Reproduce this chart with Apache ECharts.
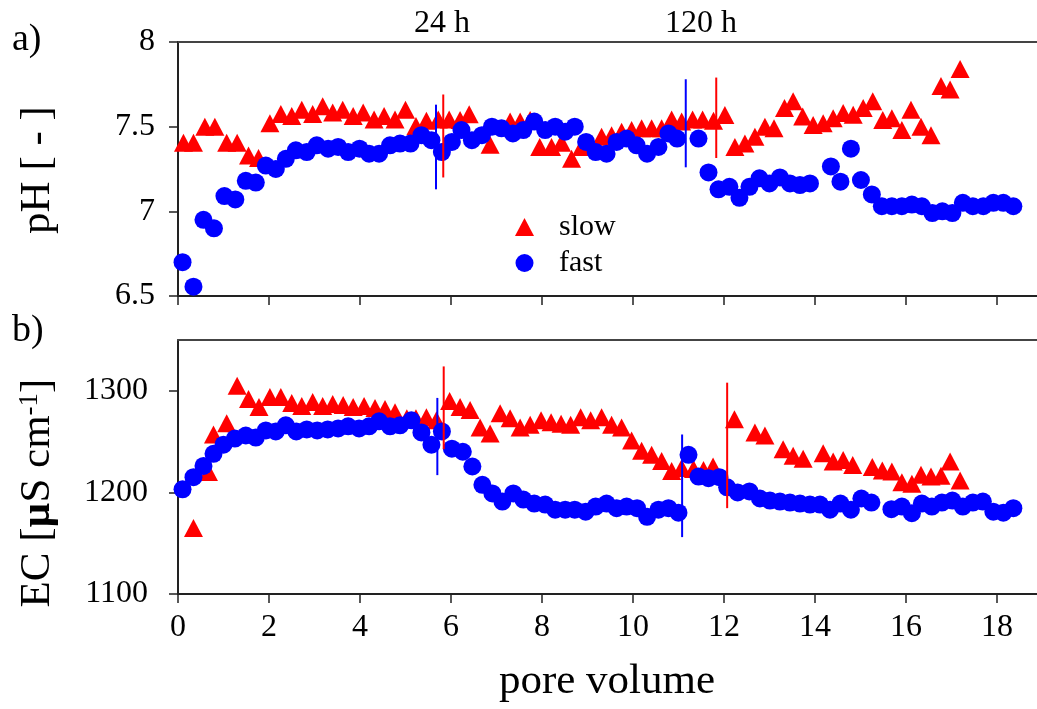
<!DOCTYPE html>
<html>
<head>
<meta charset="utf-8">
<script src="https://cdn.jsdelivr.net/npm/echarts@6/dist/echarts.min.js"></script>
<style>
html,body{margin:0;padding:0;background:#fff;}
#chart{width:1037px;height:709px;}
</style>
</head>
<body>
<div id="chart"></div>
<script>
// ---- data (pore volume, value) ----
const xTicks = [0, 2, 4, 6, 8, 10, 12, 14, 16, 18];
const phTicks = [6.5, 7, 7.5, 8];
const ecTicks = [1100, 1200, 1300];
const seriesNames = ['slow', 'fast'];
const topLabels = ['24 h', '120 h'];

const phSlow = [[0.12,7.405],[0.34,7.405],[0.59,7.50],[0.81,7.50],[1.07,7.405],[1.30,7.405],[1.55,7.33],[1.77,7.315],
[2.02,7.52],[2.26,7.575],[2.50,7.563],[2.72,7.60],[2.96,7.575],[3.18,7.62],[3.40,7.583],[3.62,7.60],[3.85,7.563],[4.07,7.583],
[4.31,7.543],[4.53,7.563],[4.77,7.543],[5.00,7.60],[5.23,7.504],[5.46,7.535],[5.72,7.543],[5.96,7.543],[6.20,7.54],[6.40,7.573],
[6.86,7.393],[7.30,7.53],[7.52,7.53],[7.74,7.54],[7.95,7.38],[8.21,7.38],[8.43,7.405],[8.65,7.31],[8.87,7.38],[9.09,7.39],
[9.31,7.44],[9.53,7.45],[9.75,7.47],[9.97,7.48],[10.19,7.49],[10.41,7.49],[10.63,7.49],[10.85,7.543],[11.07,7.53],[11.31,7.543],
[11.53,7.543],[11.77,7.535],[12.02,7.569],[12.24,7.38],[12.46,7.40],[12.68,7.44],[12.90,7.50],[13.10,7.49],[13.33,7.61],[13.52,7.65],
[13.73,7.56],[13.96,7.51],[14.18,7.52],[14.40,7.55],[14.62,7.58],[14.84,7.57],[15.06,7.61],[15.27,7.65],[15.49,7.54],[15.69,7.55],
[15.91,7.48],[16.11,7.60],[16.33,7.50],[16.55,7.45],[16.77,7.74],[16.97,7.72],[17.19,7.84]];

const phFast = [[0.10,6.70],[0.34,6.555],[0.56,6.95],[0.79,6.90],[1.02,7.09],[1.26,7.07],[1.49,7.18],[1.71,7.17],[1.93,7.27],
[2.15,7.25],[2.37,7.31],[2.59,7.36],[2.83,7.35],[3.05,7.39],[3.30,7.37],[3.52,7.38],[3.74,7.35],[3.99,7.37],[4.20,7.34],[4.42,7.34],
[4.66,7.39],[4.88,7.40],[5.11,7.40],[5.35,7.45],[5.57,7.42],[5.80,7.35],[6.02,7.41],[6.23,7.48],[6.46,7.42],[6.68,7.45],[6.90,7.50],
[7.11,7.49],[7.36,7.46],[7.59,7.48],[7.83,7.53],[8.07,7.48],[8.29,7.50],[8.51,7.47],[8.72,7.50],[8.97,7.41],[9.18,7.35],[9.42,7.34],
[9.64,7.41],[9.86,7.43],[10.08,7.39],[10.31,7.34],[10.56,7.38],[10.78,7.46],[10.97,7.43],[11.44,7.43],[11.66,7.23],[11.88,7.13],
[12.12,7.145],[12.34,7.08],[12.56,7.145],[12.78,7.195],[13.00,7.165],[13.23,7.20],[13.45,7.165],[13.67,7.155],[13.89,7.165],
[14.35,7.265],[14.56,7.175],[14.79,7.37],[15.01,7.185],[15.25,7.10],[15.47,7.03],[15.69,7.03],[15.91,7.03],[16.13,7.04],[16.35,7.03],
[16.58,6.99],[16.80,7.00],[17.02,6.99],[17.25,7.05],[17.47,7.03],[17.70,7.03],[17.92,7.05],[18.14,7.05],[18.36,7.03]];

const ecSlow = [[0.34,1165],[0.67,1220],[0.78,1257],[1.07,1268],[1.30,1305],[1.55,1292],[1.78,1284],[2.02,1294],[2.26,1294],
[2.50,1288],[2.72,1285],[2.96,1289],[3.18,1285],[3.40,1287],[3.63,1286],[3.85,1284],[4.09,1285],[4.33,1283],[4.55,1282],[4.77,1279],
[5.03,1273],[5.23,1273],[5.46,1274],[5.68,1271],[5.97,1290],[6.20,1284],[6.42,1281],[6.64,1264],[6.86,1258],[7.08,1278],[7.30,1273],
[7.52,1264],[7.74,1266.5],[7.98,1271],[8.20,1269],[8.42,1267.5],[8.63,1266.5],[8.85,1274],[9.07,1271],[9.31,1274],[9.53,1266.5],
[9.75,1264],[9.97,1251],[10.19,1241],[10.41,1237],[10.63,1231],[10.85,1221],[11.07,1224],[11.33,1223],[11.55,1222],[11.76,1225.5],
[12.23,1272],[12.68,1259],[12.90,1256],[13.30,1242.5],[13.52,1236],[13.74,1233],[14.18,1238.6],[14.40,1230.4],[14.62,1232],
[14.83,1227],[15.26,1225],[15.48,1221.6],[15.69,1220.6],[15.91,1210],[16.13,1208.4],[16.33,1217.3],[16.55,1215.6],[16.77,1216.3],
[16.97,1230.4],[17.19,1211.8]];

const ecFast = [[0.10,1203],[0.34,1215],[0.56,1226],[0.78,1238],[1.00,1247],[1.25,1253],[1.49,1256],[1.71,1254],[1.93,1261],
[2.15,1260],[2.37,1266],[2.60,1260],[2.83,1262],[3.06,1261],[3.29,1262],[3.52,1263],[3.74,1265],[3.98,1263],[4.20,1265],[4.42,1270],
[4.66,1265],[4.88,1266],[5.13,1271],[5.35,1259],[5.57,1247],[5.80,1260],[6.02,1243],[6.26,1240],[6.47,1225.5],[6.69,1207.5],
[6.91,1199],[7.13,1191],[7.37,1199],[7.59,1193],[7.83,1189],[8.07,1188],[8.29,1183],[8.51,1183],[8.72,1183],[8.96,1181],[9.18,1186],
[9.42,1189],[9.64,1184.5],[9.86,1186],[10.09,1184.5],[10.31,1176],[10.56,1183],[10.78,1184.5],[11.00,1180],[11.22,1237],
[11.44,1215.6],[11.66,1214],[11.90,1215],[12.07,1205],[12.30,1200],[12.56,1201],[12.79,1194],[13.01,1192],[13.23,1191],[13.45,1190],
[13.67,1189],[13.89,1188],[14.11,1188],[14.33,1183],[14.56,1189],[14.79,1183],[15.02,1194],[15.24,1190],[15.68,1183.5],[15.91,1186],
[16.13,1179.6],[16.35,1189],[16.57,1186],[16.79,1190],[17.02,1192],[17.25,1186],[17.47,1190],[17.69,1191],[17.92,1181],[18.14,1180],
[18.36,1184.5]];

// vertical range bars: [x, low, high]
const phSlowBars = [[5.83,7.20,7.69],[11.83,7.315,7.79]];
const phFastBars = [[5.67,7.13,7.63],[11.16,7.26,7.78]];
const ecSlowBars = [[5.84,1242.5,1324],[12.07,1184.5,1308]];
const ecFastBars = [[5.70,1217,1293],[11.08,1156,1257]];

// ---- styling ----
const FONT = 'Liberation Serif';
const RED = '#ff0000', BLUE = '#0000ff';
const X_MAX = 18.88;

function plain(v) { return String(v); }
function labelStyle(margin, show) {
  return { show: show, formatter: plain, margin: margin, showMaxLabel: false,
           textStyle: { fontFamily: FONT, fontSize: 32, color: '#000' },
           fontFamily: FONT, fontSize: 32, color: '#000' };
}

function barSeries(data, color, xi, yi) {
  return {
    type: 'custom', xAxisIndex: xi, yAxisIndex: yi, z: 10, silent: true,
    encode: { x: 0, y: [1, 2] },
    renderItem: function (params, api) {
      const p1 = api.coord([api.value(0), api.value(1)]);
      const p2 = api.coord([api.value(0), api.value(2)]);
      return { type: 'line', shape: { x1: p1[0], y1: p1[1], x2: p2[0], y2: p2[1] },
               style: { stroke: color, lineWidth: 2 } };
    },
    data: data
  };
}

function bottomX(gridIndex, showLabels) {
  return {
    type: 'value', gridIndex: gridIndex, min: xTicks[0], max: X_MAX, interval: xTicks[1] - xTicks[0], position: 'bottom',
    axisLine: { show: true, lineStyle: { color: '#222', width: 2 } },
    axisTick: { show: true, length: 9, inside: false, customValues: xTicks, lineStyle: { color: '#222', width: 1.5 } },
    axisLabel: labelStyle(18, showLabels),
    splitLine: { show: false }
  };
}
function topX(gridIndex) {
  return {
    type: 'value', gridIndex: gridIndex, min: 0, max: X_MAX, position: 'top',
    axisLine: { show: true, onZero: false, lineStyle: { color: '#444', width: 2 } },
    axisTick: { show: false }, axisLabel: { show: false }, splitLine: { show: false }
  };
}
function leftY(gridIndex, min, max, ticks, margin) {
  return {
    type: 'value', gridIndex: gridIndex, min: min, max: max, interval: ticks[1] - ticks[0],
    axisLine: { show: true, onZero: false, lineStyle: { color: '#222', width: 2 } },
    axisTick: { show: true, length: 9, customValues: ticks, lineStyle: { color: '#222', width: 1.5 } },
    axisLabel: Object.assign(labelStyle(margin, true), { showMaxLabel: ticks[ticks.length - 1] === max }),
    splitLine: { show: false }
  };
}

const chart = echarts.init(document.getElementById('chart'), null, { renderer: 'canvas' });
const option = {
  animation: false,
  backgroundColor: '#fff',
  textStyle: { fontFamily: FONT, color: '#000' },
  grid: [
    { left: 178, top: 42, right: 0, height: 254 },
    { left: 178, top: 340, right: 0, height: 254 }
  ],
  xAxis: [bottomX(0, false), bottomX(1, true), topX(0), topX(1)],
  yAxis: [leftY(0, 6.5, 8, phTicks, 23), leftY(1, 1100, 1350, ecTicks, 30)],
  legend: {
    orient: 'vertical', left: 510, top: 207, itemGap: 6,
    itemWidth: 19, itemHeight: 18,
    data: [{ name: seriesNames[0], icon: 'triangle' }, { name: seriesNames[1], icon: 'circle' }],
    textStyle: { fontFamily: FONT, fontSize: 30, color: '#000', padding: [0, 0, 0, 20] },
    selectedMode: false
  },
  series: [
    { name: seriesNames[0], type: 'scatter', xAxisIndex: 0, yAxisIndex: 0, symbol: 'triangle', symbolSize: [19, 18],
      itemStyle: { color: RED, opacity: 1 }, data: phSlow, z: 2 },
    { name: seriesNames[1], type: 'scatter', xAxisIndex: 0, yAxisIndex: 0, symbol: 'circle', symbolSize: 18,
      itemStyle: { color: BLUE, opacity: 1 }, data: phFast, z: 3 },
    { name: seriesNames[0], type: 'scatter', xAxisIndex: 1, yAxisIndex: 1, symbol: 'triangle', symbolSize: [19, 18],
      itemStyle: { color: RED, opacity: 1 }, data: ecSlow, z: 2 },
    { name: seriesNames[1], type: 'scatter', xAxisIndex: 1, yAxisIndex: 1, symbol: 'circle', symbolSize: 18,
      itemStyle: { color: BLUE, opacity: 1 }, data: ecFast, z: 3 },
    barSeries(phSlowBars, RED, 0, 0),
    barSeries(phFastBars, BLUE, 0, 0),
    barSeries(ecSlowBars, RED, 1, 1),
    barSeries(ecFastBars, BLUE, 1, 1)
  ],
  graphic: [
    { type: 'text', x: 12, y: 40, style: { text: 'a)', fontSize: 38, fontFamily: FONT, fill: '#000', align: 'left', verticalAlign: 'middle' } },
    { type: 'text', x: 12, y: 331, style: { text: 'b)', fontSize: 38, fontFamily: FONT, fill: '#000', align: 'left', verticalAlign: 'middle' } },
    { type: 'text', x: 442, y: 24, style: { text: topLabels[0], fontSize: 32, fontFamily: FONT, fill: '#000', align: 'center', verticalAlign: 'middle' } },
    { type: 'text', x: 701, y: 24, style: { text: topLabels[1], fontSize: 32, fontFamily: FONT, fill: '#000', align: 'center', verticalAlign: 'middle' } },
    { type: 'text', x: 38, y: 170, rotation: Math.PI / 2,
      style: { text: 'pH [ - ]', fontSize: 43, fontFamily: FONT, fill: '#000', align: 'center', verticalAlign: 'middle' } },
    { type: 'text', x: 38, y: 493, rotation: Math.PI / 2,
      style: { text: 'EC [{mu|µ}S cm{sup|-1}]', fontSize: 43, fontFamily: FONT, fill: '#000', align: 'center', verticalAlign: 'middle',
        rich: { mu: { fontSize: 43, fontFamily: FONT, fontWeight: 'bold', fill: '#000' },
                sup: { fontSize: 27, fontFamily: FONT, fill: '#000', verticalAlign: 'top' } } } },
    { type: 'text', x: 607, y: 682, style: { text: 'pore volume', fontSize: 43, fontFamily: FONT, fill: '#000', align: 'center', verticalAlign: 'middle' } }
  ]
};
chart.setOption(option);
</script>
</body>
</html>
